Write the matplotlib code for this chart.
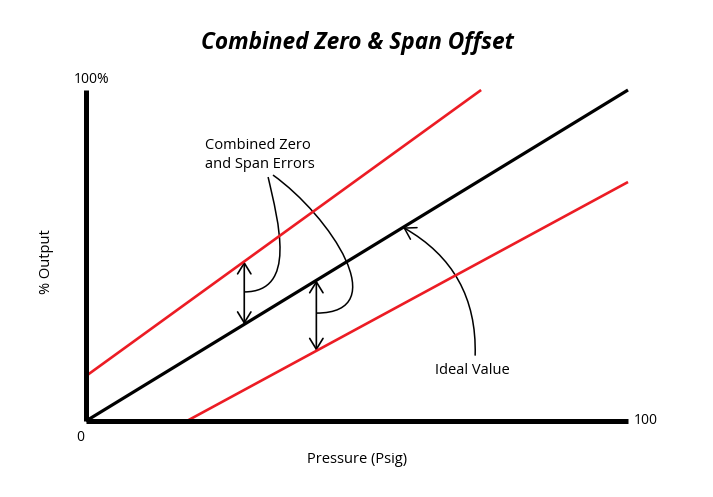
import matplotlib.pyplot as plt
import numpy as np
from matplotlib.patches import FancyArrowPatch, PathPatch
from matplotlib.path import Path

plt.rcParams['font.family'] = ['Open Sans', 'DejaVu Sans']

# ideal transfer line and the two offset lines (x = % pressure, y = % output)
ideal_x = [0, 100]
ideal_y = [0, 100]
upper_x = [0, 72.9]
upper_y = [13.6, 100]
lower_x = [18.6, 100]
lower_y = [0, 72.2]

# where the error arrows sit
err_upper_x = 29.2
err_lower_x = 42.5
ideal_mark_x = 58.5

red = '#ec1c24'

fig = plt.figure(figsize=(7.13, 4.97), dpi=100)
ax = fig.add_axes([86 / 713, 76 / 497, 542 / 713, 331 / 497])
ax.set_xlim(0, 100)
ax.set_ylim(0, 100)
for s in ['top', 'right']:
    ax.spines[s].set_visible(False)
for s in ['left', 'bottom']:
    ax.spines[s].set_linewidth(3.6)
    ax.spines[s].set_capstyle('butt')
ax.set_xticks([])
ax.set_yticks([])

ax.plot(ideal_x, ideal_y, color='black', lw=2.3, clip_on=False, solid_capstyle='butt')
ax.plot(upper_x, upper_y, color=red, lw=1.9, clip_on=False, solid_capstyle='butt')
ax.plot(lower_x, lower_y, color=red, lw=1.9, clip_on=False, solid_capstyle='butt')

# double arrows between lines
def dbl_arrow(x, y0, y1):
    a = FancyArrowPatch((x, y0), (x, y1), arrowstyle='<->,head_length=0.65,head_width=0.4',
                        mutation_scale=12, lw=1.2, color='black', shrinkA=0, shrinkB=0)
    ax.add_patch(a)

dbl_arrow(err_upper_x, np.interp(err_upper_x, ideal_x, ideal_y),
          np.interp(err_upper_x, upper_x, upper_y))
dbl_arrow(err_lower_x, np.interp(err_lower_x, lower_x, lower_y),
          np.interp(err_lower_x, ideal_x, ideal_y))

# curved leaders from the label
y1 = 39.0
leader1 = Path([(33.6, 73.7), (35.5, 60), (39.0, y1), (err_upper_x, y1)],
               [Path.MOVETO, Path.CURVE4, Path.CURVE4, Path.CURVE4])
y2 = 32.6
leader2 = Path([(34.5, 74.3), (45, 62), (57, y2), (err_lower_x, y2)],
               [Path.MOVETO, Path.CURVE4, Path.CURVE4, Path.CURVE4])
for p in [leader1, leader2]:
    ax.add_patch(PathPatch(p, fill=False, lw=1.1, color='black', clip_on=False))

ax.text(22.0, 80.4, 'Combined Zero\nand Span Errors', fontsize=10.5, ha='left', va='center',
        linespacing=1.35)

# ideal value pointer
mark = FancyArrowPatch((71.8, 19.9), (ideal_mark_x, np.interp(ideal_mark_x, ideal_x, ideal_y)),
                       connectionstyle='arc3,rad=0.3',
                       arrowstyle='->,head_length=0.65,head_width=0.4',
                       mutation_scale=12, lw=1.1, color='black', shrinkA=0, shrinkB=0)
ax.add_patch(mark)
ax.text(71.3, 15.2, 'Ideal Value', fontsize=10.5, ha='center', va='center')

# axis labels
ax.text(1.0, 103.3, '100%', fontsize=10, ha='center', va='center')
ax.text(-1.0, -5, '0', fontsize=10, ha='center', va='center')
ax.text(101, 0.3, '100', fontsize=10, ha='left', va='center')
ax.text(50, -11.5, 'Pressure (Psig)', fontsize=10.5, ha='center', va='center')
ax.text(-7.2, 48, '% Output', fontsize=10.5, ha='center', va='center', rotation=90)

fig.text(357 / 713, 1 - 43 / 497, 'Combined Zero & Span Offset', fontsize=16.3,
         fontweight='bold', fontstyle='italic', ha='center', va='center')

fig.savefig('out.png', dpi=100)
